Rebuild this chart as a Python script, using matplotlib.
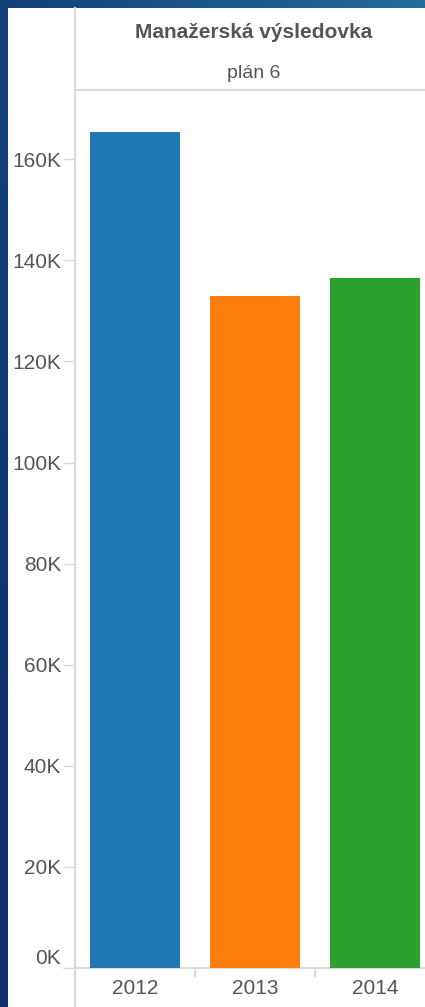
import numpy as np
import matplotlib
matplotlib.use("Agg")
import matplotlib.pyplot as plt
from matplotlib.patches import Rectangle
from matplotlib.lines import Line2D
from matplotlib.ticker import FuncFormatter

years = ["2012", "2013", "2014"]
values = [165400, 132900, 136500]
colors = ["#1f77b4", "#ff7f0e", "#2ca02c"]
yticks = [0, 20000, 40000, 60000, 80000, 100000, 120000, 140000, 160000]
title = "Manažerská výsledovka"
subtitle = "plán 6"

W, H = 425, 1007
fig = plt.figure(figsize=(W / 100, H / 100), dpi=100)

# background gradient
bg = fig.add_axes([0, 0, 1, 1])
bg.set_axis_off()
gx = np.linspace(0, 1, 200)
gy = np.linspace(0, 1, 200)
X, Y = np.meshgrid(gx, gy)
t = np.clip(0.75 * X + 0.35 * (1 - Y) - 0.1, 0, 1)
c0 = np.array([0x0e, 0x33, 0x6c]) / 255
c1 = np.array([0x23, 0x6c, 0x9c]) / 255
img = c0[None, None, :] * (1 - t[..., None]) + c1[None, None, :] * t[..., None]
bg.imshow(img, extent=[0, W, H, 0], aspect="auto")
bg.set_xlim(0, W)
bg.set_ylim(H, 0)
bg.add_patch(Rectangle((8, 8), W, H, facecolor="white", edgecolor="none"))

# header text and lines
line_col = "#d9d9d9"
txt_col = "#555555"
fam = "Liberation Sans"
bg.text(254, 33, title, ha="center", va="center", fontsize=15,
        fontweight="bold", color=txt_col, family=fam)
bg.text(254, 73, subtitle, ha="center", va="center", fontsize=14,
        color=txt_col, family=fam)
bg.add_line(Line2D([75, W], [90, 90], color=line_col, lw=1.5))
bg.add_line(Line2D([75, 75], [8, H], color=line_col, lw=1.5))

# main axes
left = 75 / W
bottom = (H - 968) / H
top = (H - 90) / H
ax = fig.add_axes([left, bottom, 1 - left, top - bottom])
ax.patch.set_alpha(0)
x = np.arange(len(years))
ax.bar(x, values, width=0.75, color=colors, edgecolor="none", zorder=3)
ax.set_xlim(-0.5, -0.5 + (W - 75) / 120)
ymax = 878 / 101.1 * 20000
ax.set_ylim(0, ymax)

for s in ["top", "right", "left"]:
    ax.spines[s].set_visible(False)
ax.spines["bottom"].set_color(line_col)
ax.spines["bottom"].set_linewidth(1.5)

ax.set_yticks(yticks)
ax.yaxis.set_major_formatter(FuncFormatter(lambda v, p: f"{int(v/1000)}K"))
ax.tick_params(axis="y", length=9, width=1, color=line_col, labelsize=15,
               labelcolor=txt_col, pad=1)
ax.set_xticks(x)
ax.set_xticklabels(years)
ax.tick_params(axis="x", length=0, labelsize=15, labelcolor=txt_col, pad=8)
for lab in ax.get_xticklabels() + ax.get_yticklabels():
    lab.set_family(fam)
ax.get_yticklabels()[0].set_va("bottom")
# category separators
for sep in [0.5, 1.5]:
    ax.plot([sep, sep], [0, -ymax * 0.009], color=line_col, lw=1.5,
            clip_on=False, transform=ax.transData)

fig.savefig("out.png", dpi=100)
